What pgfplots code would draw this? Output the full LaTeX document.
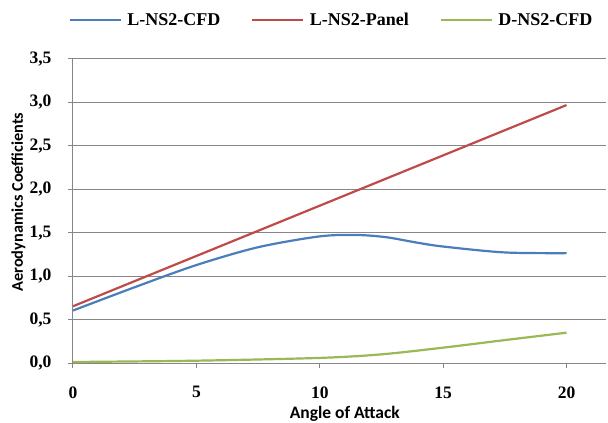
\documentclass[border=0pt]{standalone}
\usepackage{fontspec}
\setmainfont{Liberation Serif}
\newfontfamily\carlito{Carlito}
\usepackage{pgfplots}
\pgfplotsset{compat=1.18}
\definecolor{cblue}{HTML}{4A7EBB}
\definecolor{cred}{HTML}{BE4B48}
\definecolor{cgreen}{HTML}{98B954}
\definecolor{cgrid}{HTML}{868686}
\begin{document}
\begin{tikzpicture}[x=1pt,y=1pt]
\path[use as bounding box] (0,0) rectangle (608,423);
\begin{axis}[
  at={(73pt,59.7pt)}, anchor=south west,
  scale only axis, width=533pt, height=304.3pt,
  xmin=0, xmax=21.6, ymin=0, ymax=3.5,
  xtick={0,5,10,15,20}, ytick={0,0.5,...,3.5},
  axis lines*=left, axis line style={-, draw=cgrid, line width=1pt},
  ymajorgrids, grid style={draw=cgrid, line width=1pt},
  tick align=outside, major tick length=5pt,
  tick style={draw=cgrid, line width=1pt},
  /pgf/number format/assume math mode=true,
  yticklabel style={/pgf/number format/use comma, /pgf/number format/fixed, /pgf/number format/fixed zerofill, /pgf/number format/precision=1, xshift=-13pt},
  xticklabel style={/pgf/number format/fixed, /pgf/number format/precision=0, yshift=-17pt, inner sep=1pt},
  tick label style={font=\bfseries\fontsize{17.5}{17.5}\selectfont},
  xlabel={Angle of Attack},
  ylabel={Aerodynamics Coefficients},
  xlabel style={font=\carlito\bfseries\fontsize{17.5}{17.5}\selectfont, at={(rel axis cs:0.51,-0.1818)}, anchor=base, inner sep=1pt},
  ylabel style={font=\carlito\bfseries\fontsize{16.3}{16.3}\selectfont, at={(rel axis cs:-0.1026,0.53)}, anchor=center},
  legend columns=3,
  legend style={draw=none, fill=none, at={(rel axis cs:0.483,1.128)}, anchor=center,
    font=\bfseries\fontsize{18}{18}\selectfont,
    nodes={inner sep=0pt},
    /tikz/every odd column/.append style={column sep=5.6pt},
    /tikz/every even column/.append style={column sep=30.7pt}},
  legend image code/.code={\draw[#1] (0pt,0pt) -- (51pt,0pt);},
  every axis plot/.append style={line width=2.2pt},
]
\addplot[cblue, smooth] coordinates {
 (0,0.607) (2.5,0.875) (5,1.13) (7.5,1.335) (10,1.46) (11.5,1.476) (12.7,1.45) (13.9,1.39) (15,1.343) (17.5,1.275) (20,1.267)
};
\addlegendentry{L-NS2-CFD}
\addplot[cred] coordinates {(0,0.656) (20,2.97)};
\addlegendentry{L-NS2-Panel}
\addplot[cgreen, smooth] coordinates {
 (0,0.015) (5,0.03) (10,0.062) (12.5,0.103) (15,0.18) (17.5,0.267) (20,0.352)
};
\addlegendentry{D-NS2-CFD}
\end{axis}
\end{tikzpicture}
\end{document}
